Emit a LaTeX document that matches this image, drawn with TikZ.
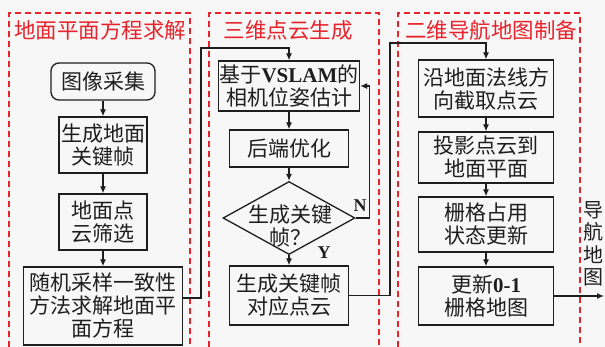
\documentclass[tikz,border=0pt]{standalone}
\usepackage{fontspec}
\setmainfont{Noto Sans CJK SC}
\newfontfamily\latf{Liberation Serif}
\usetikzlibrary{arrows.meta,shapes.geometric}
\definecolor{tred}{HTML}{E8232B}
\definecolor{ink}{HTML}{1E1E1E}
\begin{document}
\begin{tikzpicture}[x=1pt,y=-1pt,
  box/.style={draw=ink, line width=1.3pt, text=ink, align=center, inner sep=0pt, font=\fontsize{21}{23}\selectfont},
  arr/.style={draw=ink, line width=1.3pt, -{Latex[length=7pt,width=6pt]}},
  panel/.style={draw=tred, line width=1.2pt, dash pattern=on 6pt off 4pt},
  ttl/.style={text=tred, font=\fontsize{21.5}{24}\selectfont, inner sep=0pt},
  yn/.style={font=\latf\bfseries\fontsize{18}{18}\selectfont, text=ink, inner sep=0pt},
  lat/.style={}]
\useasboundingbox (0,0) rectangle (605,347);
\fill[black!3] (0,0) rectangle (605,347);
% panels
\draw[panel] (9,347) -- (9,13) -- (190,13) -- (190,347);
\draw[panel] (209,347) -- (209,13) -- (379,13) -- (379,347);
\draw[panel] (398,347) -- (398,13) -- (580,13) -- (580,347);
\node[ttl] (t1) at (100,30) {地面平面方程求解};
\node[ttl] (t2) at (288,30) {三维点云生成};
\node[ttl] (t3) at (491,30) {二维导航地图制备};
% panel 1
\node[box, rounded corners=8pt, minimum width=104pt, minimum height=37pt] (img) at (103,81.5) {图像采集};
\node[box, minimum width=88pt, minimum height=56pt] (kf) at (103,145) {生成地面\\关键帧};
\node[box, minimum width=88pt, minimum height=56pt] (filt) at (103,222) {地面点\\云筛选};
\node[box, minimum width=159pt, minimum height=78pt] (ransac) at (103,306) {随机采样一致性\\方法求解地面平\\面方程};
\draw[arr] (img) -- (kf);
\draw[arr] (kf) -- (filt);
\draw[arr] (filt) -- (ransac);
% panel 2
\node[box, minimum width=141pt, minimum height=50pt] (vslam) at (289,86) {基于{\latf\bfseries VSLAM}的\\相机位姿估计};
\node[box, minimum width=119pt, minimum height=37pt] (back) at (289,148.5) {后端优化};
\node[draw=ink, line width=1.3pt, diamond, minimum width=132pt, minimum height=73pt, inner sep=0pt] (dia) at (289,218) {};
\node[text=ink, align=center, inner sep=0pt, font=\fontsize{21}{23}\selectfont] (diat) at (290,226) {生成关键\\帧？};
\node[box, minimum width=119pt, minimum height=59pt] (pc) at (289,295.5) {生成关键帧\\对应点云};
\draw[arr] (vslam) -- (back);
\draw[arr] (back) -- (dia);
\draw[arr] (dia) -- (pc);
\draw[arr] (dia.east) -- ++(14,0) |- (vslam.east);
\node[yn] (N) at (360,206) {N};
\node[yn] (Y) at (324,253) {Y};
% panel 3
\node[box, minimum width=135pt, minimum height=57pt] (n1) at (486,88.5) {沿地面法线方\\向截取点云};
\node[box, minimum width=135pt, minimum height=51pt] (n2) at (486,157.5) {投影点云到\\地面平面};
\node[box, minimum width=135pt, minimum height=55pt] (n3) at (486,224.5) {栅格占用\\状态更新};
\node[box, minimum width=135pt, minimum height=58pt] (n4) at (486,296) {更新{\latf\bfseries 0-1}\\栅格地图};
\draw[arr] (n1) -- (n2);
\draw[arr] (n2) -- (n3);
\draw[arr] (n3) -- (n4);
\node[text=ink, align=center, inner sep=0pt, font=\fontsize{20}{22.5}\selectfont] (nav) at (593,244) {导\\航\\地\\图};
% connectors between panels
\coordinate (j1) at (201,298);
\coordinate (j2) at (201,48);
\draw[arr] (ransac.east |- j1) -- (j1) -- (j2) -| (vslam.north);
\coordinate (j3) at (390,43);
\draw[arr] (pc.east) -| (j3) -| (n1.north);
\coordinate (out) at (604,296);
\draw[arr] (n4.east) -- (out);
\end{tikzpicture}
\end{document}
